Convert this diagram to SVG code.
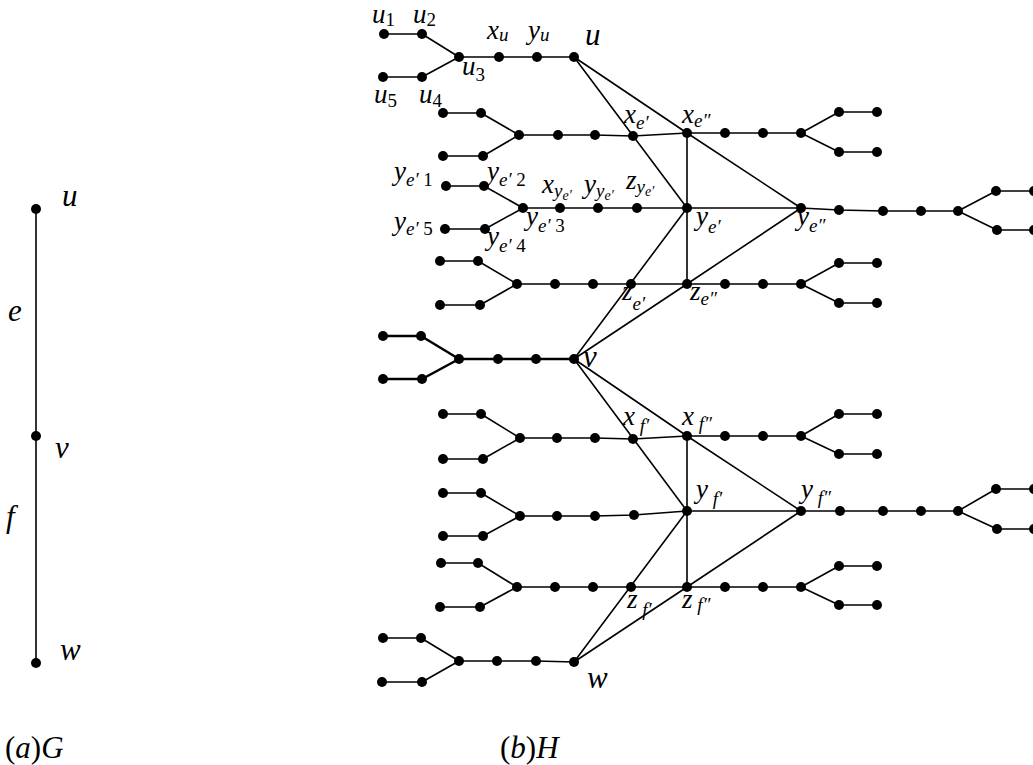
<svg xmlns="http://www.w3.org/2000/svg" width="1033" height="765" viewBox="0 0 1033 765">
<style>
.e{fill:none;stroke:#000;stroke-width:1.6;stroke-linejoin:round}
.ev{fill:none;stroke:#000;stroke-width:2.4}
circle{fill:#000}
.t text{font-family:'Liberation Serif','Times New Roman',serif;font-style:italic;font-size:27px;fill:#000}
.t .big{font-size:31px}
.t .s{font-size:19px}
.t .ss{font-size:14px}
.t .n{font-style:normal}
</style>
<rect width="1033" height="765" fill="#fff"/>
<g id="connectors">
<path class="e" d="M36 209V663"/>
<path class="e" d="M384 34H422L459 57M383 77H422L459 57M459 57H574"/>
<path class="e" d="M443 113H481L519 135M443 156H483L519 135M519 135H595L633 136L687 133H801M801 133L839 112H877M801 133L839 152H877"/>
<path class="e" d="M446 186H484L523 208M445 229H485L523 208M523 208H801L839 210L883 211H958M958 211L996 191H1034M958 211L997 230H1034"/>
<path class="e" d="M440 261H478L517 284M440 305H480L517 284M517 284H801M801 284L839 263H877M801 284L839 303H877"/>
<path class="ev" d="M383 336H421L459 359M383 379H422L459 359M459 359H574"/>
<path class="e" d="M443 414H481L520 438M443 459H483L520 438M520 438H595L633 439L687 436H801M801 436L839 414H877M801 436L839 454H877"/>
<path class="e" d="M443 493H481L520 516M443 536H483L520 516M520 516H595L634 515L687 511H801L840 511H958M958 511L996 489H1034M958 511L997 529H1034"/>
<path class="e" d="M441 563H478L517 587M440 607H480L517 587M517 587H801M801 587L839 566H877M801 587L839 605H877"/>
<path class="e" d="M383 638H421L459 661M382 682H422L459 661M459 661H536L574 662"/>
<path class="e" d="M574 57L687 208M574 57L687 133M687 133V284M687 133L801 208M687 284L801 208M687 208L574 359M574 359L687 284"/>
<path class="e" d="M574 359L687 511M574 359L687 436M687 436V587M687 436L801 511M687 587L801 511M687 511L574 662M574 662L687 587"/>
</g>
<g id="G" class="t" font-family="'Liberation Serif', serif">
<g id="g-u"><circle cx="36" cy="209" r="5"/><text class="big" x="62" y="206">u</text></g>
<g id="g-v"><circle cx="36" cy="436" r="5"/><text class="big" x="55" y="458">v</text></g>
<g id="g-w"><circle cx="36" cy="663" r="5"/><text class="big" x="60" y="660">w</text></g>
<g id="g-e"><text class="big" x="8" y="321">e</text></g>
<g id="g-f"><text class="big" x="6" y="527">f</text></g>
<g id="cap-a"><text class="big" x="5" y="758"><tspan class="n">(</tspan>a<tspan class="n">)</tspan>G</text></g>
</g>
<g id="H" class="t" font-family="'Liberation Serif', serif">
<g id="n-u1"><circle cx="384" cy="34" r="5"/><text x="372" y="23">u<tspan class="s n" dy="3">1</tspan></text></g>
<g id="n-u2"><circle cx="422" cy="34" r="5"/><text x="413" y="23">u<tspan class="s n" dy="3">2</tspan></text></g>
<g id="n-u5"><circle cx="383" cy="77" r="5"/><text x="374" y="103">u<tspan class="s n" dy="4">5</tspan></text></g>
<g id="n-u4"><circle cx="422" cy="77" r="5"/><text x="419" y="103">u<tspan class="s n" dy="4">4</tspan></text></g>
<g id="n-u3"><circle cx="459" cy="57" r="5"/><text x="462" y="75">u<tspan class="s n" dy="6">3</tspan></text></g>
<g id="n-xu"><circle cx="499" cy="57" r="5"/><text x="487" y="39">x<tspan class="s" dy="2">u</tspan></text></g>
<g id="n-yu"><circle cx="537" cy="57" r="5"/><text x="528" y="39">y<tspan class="s" dy="2">u</tspan></text></g>
<g id="n-u"><circle cx="574" cy="57" r="5"/><text class="big" x="585" y="45">u</text></g>

<g id="n-a1"><circle cx="443" cy="113" r="5"/></g>
<g id="n-a2"><circle cx="481" cy="113" r="5"/></g>
<g id="n-a4"><circle cx="443" cy="156" r="5"/></g>
<g id="n-a3"><circle cx="483" cy="156" r="5"/></g>
<g id="n-aJ"><circle cx="519" cy="135" r="5"/></g>
<g id="n-ac1"><circle cx="558" cy="135" r="5"/></g>
<g id="n-ac2"><circle cx="595" cy="135" r="5"/></g>
<g id="n-xe1"><circle cx="633" cy="136" r="5"/><text x="624" y="123">x<tspan class="s" dy="6">e′</tspan></text></g>

<g id="n-y1"><circle cx="446" cy="186" r="5"/><text x="394" y="180">y<tspan class="s" dy="6">e′</tspan><tspan class="s n"> 1</tspan></text></g>
<g id="n-y2"><circle cx="484" cy="186" r="5"/><text x="487" y="180">y<tspan class="s" dy="6">e′</tspan><tspan class="s n"> 2</tspan></text></g>
<g id="n-y5"><circle cx="445" cy="229" r="5"/><text x="394" y="230">y<tspan class="s" dy="5">e′</tspan><tspan class="s n"> 5</tspan></text></g>
<g id="n-y4"><circle cx="485" cy="229" r="5"/><text x="487" y="245">y<tspan class="s" dy="7">e′</tspan><tspan class="s n"> 4</tspan></text></g>
<g id="n-y3"><circle cx="523" cy="208" r="5"/><text x="526" y="225">y<tspan class="s" dy="7">e′</tspan><tspan class="s n"> 3</tspan></text></g>
<g id="n-xy"><circle cx="560" cy="208" r="5"/><text x="542" y="193">x<tspan class="s" dy="4">y</tspan><tspan class="ss" dy="3">e′</tspan></text></g>
<g id="n-yy"><circle cx="598" cy="208" r="5"/><text x="584" y="193">y<tspan class="s" dy="4">y</tspan><tspan class="ss" dy="3">e′</tspan></text></g>
<g id="n-zy"><circle cx="637" cy="208" r="5"/><text x="626" y="189">z<tspan class="s" dy="4">y</tspan><tspan class="ss" dy="3">e′</tspan></text></g>
<g id="n-ye1"><circle cx="687" cy="208" r="5"/><text x="696" y="225">y<tspan class="s" dy="8">e′</tspan></text></g>

<g id="n-b1"><circle cx="440" cy="261" r="5"/></g>
<g id="n-b2"><circle cx="478" cy="261" r="5"/></g>
<g id="n-b4"><circle cx="440" cy="305" r="5"/></g>
<g id="n-b3"><circle cx="480" cy="305" r="5"/></g>
<g id="n-bJ"><circle cx="517" cy="284" r="5"/></g>
<g id="n-bc1"><circle cx="555" cy="284" r="5"/></g>
<g id="n-bc2"><circle cx="593" cy="284" r="5"/></g>
<g id="n-ze1"><circle cx="631" cy="284" r="5"/><text x="622" y="300">z<tspan class="s" dy="10">e′</tspan></text></g>

<g id="n-v1"><circle cx="383" cy="336" r="5"/></g>
<g id="n-v2"><circle cx="421" cy="336" r="5"/></g>
<g id="n-v5"><circle cx="383" cy="379" r="5"/></g>
<g id="n-v4"><circle cx="422" cy="379" r="5"/></g>
<g id="n-vJ"><circle cx="459" cy="359" r="5"/></g>
<g id="n-vc1"><circle cx="498" cy="359" r="5"/></g>
<g id="n-vc2"><circle cx="536" cy="359" r="5"/></g>
<g id="n-v"><circle cx="574" cy="359" r="5"/><text class="big" x="583" y="367">v</text></g>

<g id="n-c1"><circle cx="443" cy="414" r="5"/></g>
<g id="n-c2"><circle cx="481" cy="414" r="5"/></g>
<g id="n-c4"><circle cx="443" cy="459" r="5"/></g>
<g id="n-c3"><circle cx="483" cy="459" r="5"/></g>
<g id="n-cJ"><circle cx="520" cy="438" r="5"/></g>
<g id="n-cc1"><circle cx="557" cy="438" r="5"/></g>
<g id="n-cc2"><circle cx="595" cy="438" r="5"/></g>
<g id="n-xf1"><circle cx="633" cy="439" r="5"/><text x="623" y="425">x<tspan class="s" dy="7"> f′</tspan></text></g>

<g id="n-d1"><circle cx="443" cy="493" r="5"/></g>
<g id="n-d2"><circle cx="481" cy="493" r="5"/></g>
<g id="n-d4"><circle cx="443" cy="536" r="5"/></g>
<g id="n-d3"><circle cx="483" cy="536" r="5"/></g>
<g id="n-dJ"><circle cx="520" cy="516" r="5"/></g>
<g id="n-dc1"><circle cx="557" cy="516" r="5"/></g>
<g id="n-dc2"><circle cx="595" cy="516" r="5"/></g>
<g id="n-dc3"><circle cx="634" cy="515" r="5"/></g>
<g id="n-yf1"><circle cx="687" cy="511" r="5"/><text x="696" y="498">y<tspan class="s" dy="7"> f′</tspan></text></g>

<g id="n-e1"><circle cx="441" cy="563" r="5"/></g>
<g id="n-e2"><circle cx="478" cy="563" r="5"/></g>
<g id="n-e4"><circle cx="440" cy="607" r="5"/></g>
<g id="n-e3"><circle cx="480" cy="607" r="5"/></g>
<g id="n-eJ"><circle cx="517" cy="587" r="5"/></g>
<g id="n-ec1"><circle cx="555" cy="587" r="5"/></g>
<g id="n-ec2"><circle cx="593" cy="587" r="5"/></g>
<g id="n-zf1"><circle cx="631" cy="587" r="5"/><text x="627" y="608">z<tspan class="s" dy="8"> f′</tspan></text></g>

<g id="n-w1"><circle cx="383" cy="638" r="5"/></g>
<g id="n-w2"><circle cx="421" cy="638" r="5"/></g>
<g id="n-w5"><circle cx="382" cy="682" r="5"/></g>
<g id="n-w4"><circle cx="422" cy="682" r="5"/></g>
<g id="n-wJ"><circle cx="459" cy="661" r="5"/></g>
<g id="n-wc1"><circle cx="497" cy="661" r="5"/></g>
<g id="n-wc2"><circle cx="536" cy="661" r="5"/></g>
<g id="n-w"><circle cx="574" cy="662" r="5"/><text class="big" x="587" y="688">w</text></g>

<g id="n-xe2"><circle cx="687" cy="133" r="5"/><text x="682" y="123">x<tspan class="s" dy="4">e″</tspan></text></g>
<g id="n-r1c1"><circle cx="725" cy="133" r="5"/></g>
<g id="n-r1c2"><circle cx="763" cy="133" r="5"/></g>
<g id="n-r1J"><circle cx="801" cy="133" r="5"/></g>
<g id="n-r1a"><circle cx="839" cy="112" r="5"/></g>
<g id="n-r1b"><circle cx="877" cy="112" r="5"/></g>
<g id="n-r1c"><circle cx="839" cy="152" r="5"/></g>
<g id="n-r1d"><circle cx="877" cy="152" r="5"/></g>

<g id="n-ye2"><circle cx="801" cy="208" r="5"/><text x="797" y="225">y<tspan class="s" dy="7">e″</tspan></text></g>
<g id="n-r2c1"><circle cx="839" cy="210" r="5"/></g>
<g id="n-r2c2"><circle cx="883" cy="211" r="5"/></g>
<g id="n-r2c3"><circle cx="921" cy="211" r="5"/></g>
<g id="n-r2J"><circle cx="958" cy="211" r="5"/></g>
<g id="n-r2a"><circle cx="996" cy="191" r="5"/></g>
<g id="n-r2b"><circle cx="1034" cy="191" r="5"/></g>
<g id="n-r2c"><circle cx="997" cy="230" r="5"/></g>
<g id="n-r2d"><circle cx="1034" cy="230" r="5"/></g>

<g id="n-ze2"><circle cx="687" cy="284" r="5"/><text x="690" y="300">z<tspan class="s" dy="5">e″</tspan></text></g>
<g id="n-r3c1"><circle cx="725" cy="284" r="5"/></g>
<g id="n-r3c2"><circle cx="763" cy="284" r="5"/></g>
<g id="n-r3J"><circle cx="801" cy="284" r="5"/></g>
<g id="n-r3a"><circle cx="839" cy="263" r="5"/></g>
<g id="n-r3b"><circle cx="877" cy="263" r="5"/></g>
<g id="n-r3c"><circle cx="839" cy="303" r="5"/></g>
<g id="n-r3d"><circle cx="877" cy="303" r="5"/></g>

<g id="n-xf2"><circle cx="687" cy="436" r="5"/><text x="682" y="425">x<tspan class="s" dy="5"> f″</tspan></text></g>
<g id="n-r4c1"><circle cx="725" cy="436" r="5"/></g>
<g id="n-r4c2"><circle cx="763" cy="436" r="5"/></g>
<g id="n-r4J"><circle cx="801" cy="436" r="5"/></g>
<g id="n-r4a"><circle cx="839" cy="414" r="5"/></g>
<g id="n-r4b"><circle cx="877" cy="414" r="5"/></g>
<g id="n-r4c"><circle cx="839" cy="454" r="5"/></g>
<g id="n-r4d"><circle cx="877" cy="454" r="5"/></g>

<g id="n-yf2"><circle cx="801" cy="511" r="5"/><text x="801" y="498">y<tspan class="s" dy="6"> f″</tspan></text></g>
<g id="n-r5c1"><circle cx="840" cy="511" r="5"/></g>
<g id="n-r5c2"><circle cx="883" cy="511" r="5"/></g>
<g id="n-r5c3"><circle cx="921" cy="511" r="5"/></g>
<g id="n-r5J"><circle cx="958" cy="511" r="5"/></g>
<g id="n-r5a"><circle cx="996" cy="489" r="5"/></g>
<g id="n-r5b"><circle cx="1034" cy="489" r="5"/></g>
<g id="n-r5c"><circle cx="997" cy="529" r="5"/></g>
<g id="n-r5d"><circle cx="1034" cy="529" r="5"/></g>

<g id="n-zf2"><circle cx="687" cy="587" r="5"/><text x="682" y="608">z<tspan class="s" dy="3"> f″</tspan></text></g>
<g id="n-r6c1"><circle cx="725" cy="587" r="5"/></g>
<g id="n-r6c2"><circle cx="763" cy="587" r="5"/></g>
<g id="n-r6J"><circle cx="801" cy="587" r="5"/></g>
<g id="n-r6a"><circle cx="839" cy="566" r="5"/></g>
<g id="n-r6b"><circle cx="877" cy="566" r="5"/></g>
<g id="n-r6c"><circle cx="839" cy="605" r="5"/></g>
<g id="n-r6d"><circle cx="877" cy="605" r="5"/></g>

<g id="cap-b"><text class="big" x="500" y="758"><tspan class="n">(</tspan>b<tspan class="n">)</tspan>H</text></g>
</g>
</svg>
